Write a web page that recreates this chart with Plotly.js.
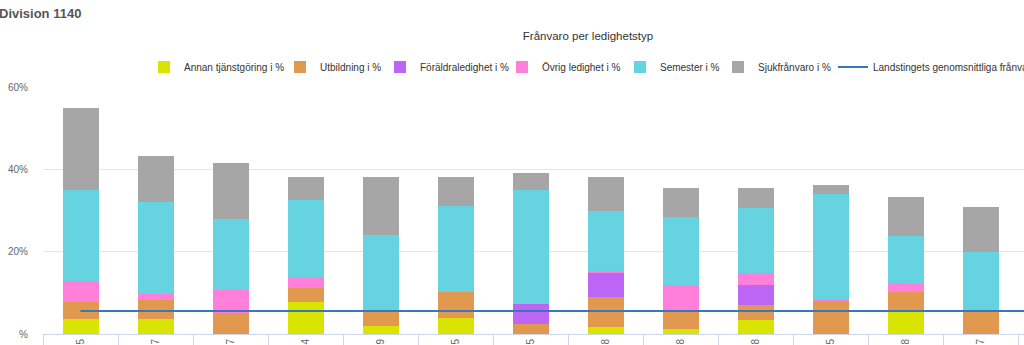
<!DOCTYPE html>
<html>
<head>
<meta charset="utf-8">
<script src="https://cdn.plot.ly/plotly-3.0.1.min.js"></script>
<style>
html,body{margin:0;padding:0;overflow:hidden;background:#fff;}
#chart{width:1200px;height:420px;}
</style>
</head>
<body>
<div id="chart"></div>
<script>
// Category labels (only the last character is visible in the reference; the 14th is off-screen)
const categories = ["114015","114027","114037","114044","114059","114065","114075","114088","114098","114108","114115","114128","114137","114147"];

const seriesNames = ["Annan tjänstgöring i %", "Utbildning i %", "Föräldraledighet i %",
                     "Övrig ledighet i %", "Semester i %", "Sjukfrånvaro i %"];
const annanTjanstgoring = [3.7, 3.7, 0, 7.8, 2.0, 4.0, 0, 1.8, 1.2, 3.5, 0, 5.3, 0];
const utbildning        = [4.0, 4.6, 5.0, 3.4, 3.6, 6.2, 2.5, 7.3, 4.1, 3.5, 8.0, 4.9, 5.3];
const foraldraledighet  = [0, 0, 0, 0, 0, 0, 4.9, 5.7, 0, 5.0, 0, 0, 0];
const ovrigLedighet     = [5.1, 1.4, 5.6, 2.7, 0, 0, 0, 0.4, 6.7, 2.7, 0.4, 2.1, 0];
const semester          = [22.3, 22.4, 17.3, 18.7, 18.4, 20.9, 27.7, 14.6, 16.4, 15.8, 25.6, 11.4, 14.6];
const sjukfranvaro      = [19.7, 11.1, 13.6, 5.6, 14.2, 7.1, 4.0, 8.4, 7.0, 4.9, 2.1, 9.5, 11.0];
const lineName          = "Landstingets genomsnittliga frånvaro";
const landstingetsSnitt = [5.6, 5.6, 5.6, 5.6, 5.6, 5.6, 5.6, 5.6, 5.6, 5.6, 5.6, 5.6, 5.6, 5.6];

const yTickVals = [0, 20, 40, 60];
const yTickText = ["%", "20%", "40%", "60%"];

const colors = ["#d9e400", "#e0994f", "#bd65f5", "#ff7fdb", "#66d3e1", "#a6a6a6"];
const barSeries = [annanTjanstgoring, utbildning, foraldraledighet, ovrigLedighet, semester, sjukfranvaro];

const barCats = categories.slice(0, 13);
const sans = "'Liberation Sans', Arial, sans-serif";
const W = 1200, H = 420, L = 43, T = 87, PH = 247, PW = W - L;

// legend entry positions (left edge of each legend box, in pixels)
const legendPx = [144, 280, 380, 502, 620, 718, 833];
const legendIds = ["legend", "legend2", "legend3", "legend4", "legend5", "legend6", "legend7"];

const data = barSeries.map((y, i) => ({
  type: "bar", name: seriesNames[i], x: barCats, y: y, legend: legendIds[i],
  marker: {color: colors[i], line: {width: 0}}
}));
data.push({type: "scatter", mode: "lines", name: lineName, legend: legendIds[6],
           x: categories, y: landstingetsSnitt, line: {color: "#3a77b8", width: 2}});

const layout = {
  width: W, height: H,
  margin: {l: L, r: 0, t: T, b: H - T - PH},
  paper_bgcolor: "#fff", plot_bgcolor: "#fff",
  barmode: "stack", bargap: 0.52,
  font: {family: sans, color: "#333"},
  title: {text: "Frånvaro per ledighetstyp", x: 588/W, xref: "container", xanchor: "center",
          y: 1 - 36/H, yref: "container", yanchor: "middle",
          font: {family: sans, size: 11.5, color: "#333"}},
  showlegend: true,
  xaxis: {type: "category", categoryorder: "array", categoryarray: categories,
          range: [-0.5, -0.5 + PW/75], tickangle: -90, tickson: "boundaries", ticks: "outside",
          ticklen: 11, tickcolor: "#ccd6eb", showline: true, linecolor: "#ccd6eb", linewidth: 1,
          showgrid: false, zeroline: false, fixedrange: true,
          tickfont: {family: sans, size: 10, color: "#666"}},
  yaxis: {range: [0, 60], tickvals: yTickVals, ticktext: yTickText, showgrid: true,
          gridcolor: "#e6e6e6", gridwidth: 1, zeroline: false, showline: false, ticks: "",
          ticklabelstandoff: 14, fixedrange: true,
          tickfont: {family: sans, size: 10, color: "#666"}},
  annotations: [{text: "<b>Division 1140</b>", xref: "paper", yref: "paper",
                 x: -46/PW, xanchor: "left", y: 1 + (T - 13)/PH, yanchor: "middle",
                 showarrow: false, font: {family: sans, size: 13, color: "#555"}}]
};

legendIds.forEach((id, i) => {
  layout[id] = {orientation: "h", x: (legendPx[i] - L)/PW, xanchor: "left",
                y: 1 + (T - 67)/PH, yanchor: "middle",
                font: {family: sans, size: 10, color: "#333"}, bgcolor: "rgba(0,0,0,0)"};
});

Plotly.newPlot("chart", data, layout, {staticPlot: true, displayModeBar: false});
</script>
</body>
</html>
